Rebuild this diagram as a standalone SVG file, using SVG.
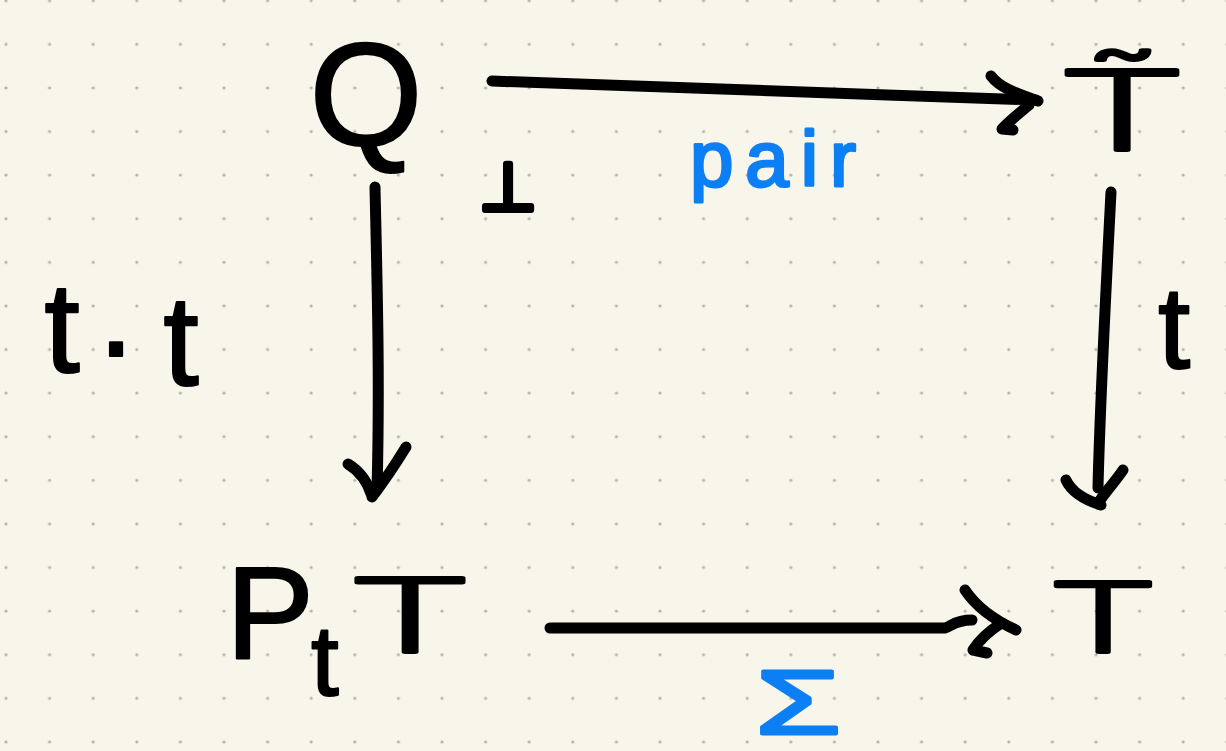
<svg xmlns="http://www.w3.org/2000/svg" width="1226" height="751" viewBox="0 0 1226 751">
  <defs>
    <!-- dotted notebook paper -->
    <pattern id="dots" patternUnits="userSpaceOnUse" x="-15.8" y="-21.1" width="43.6" height="43.6">
      <circle cx="21.8" cy="21.8" r="1.6" fill="#b4b2aa"/>
    </pattern>
    <style>
      .ink { font-family: "Liberation Sans", "DejaVu Sans", sans-serif; fill: #000; stroke: #000; stroke-width: 2; stroke-linejoin: round; }
      .wide { font-family: Lato, "Liberation Sans", sans-serif; font-weight: 300; fill: #000; stroke: #000; stroke-width: 4; stroke-linejoin: round; }
      .blue { font-family: "Liberation Sans", "DejaVu Sans", sans-serif; fill: #0b7ff3; stroke: #0b7ff3; stroke-width: 3; stroke-linejoin: round; }
      .wire { fill: none; stroke: #000; stroke-width: 11; stroke-linecap: round; stroke-linejoin: round; }
    </style>
  </defs>

  <rect width="1226" height="751" fill="#f8f6eb"/>
  <rect width="1226" height="751" fill="url(#dots)"/>

  <!-- objects -->
  <g id="node-Q">
    <text class="ink" x="366" y="145" font-size="146" text-anchor="middle">Q</text>
  </g>
  <g id="node-Ttilde">
    <text class="wide" x="0" y="0" font-size="112" text-anchor="middle" transform="translate(1122 150) scale(1.75 1)">T&#x303;</text>
  </g>
  <g id="node-PtT">
    <text class="ink" x="270" y="658" font-size="132" text-anchor="middle">P</text>
    <text class="ink" x="325" y="695" font-size="100" text-anchor="middle">t</text>
    <text class="wide" x="0" y="0" font-size="105" text-anchor="middle" transform="translate(410 652) scale(1.8 1)">T</text>
  </g>
  <g id="node-T">
    <text class="wide" x="0" y="0" font-size="98" text-anchor="middle" transform="translate(1103 652) scale(1.7 1)">T</text>
  </g>
  <g id="pullback-mark">
    <text x="508" y="210" font-size="66" text-anchor="middle" font-family="DejaVu Sans, sans-serif" fill="#000" stroke="#000" stroke-width="6" stroke-linejoin="round">⊥</text>
  </g>

  <!-- arrows -->
  <g id="connectors" class="wire">
    <!-- Q to T~ -->
    <path d="M492,81 C650,86 850,94 1036,100"/>
    <path d="M991,76 C1000,88 1018,94 1038,101 M1029,105 C1018,114 1007,123 1002,129 L1013,130"/>
    <!-- Q down to PtT -->
    <path d="M375,187 C377,280 380,380 377,490"/>
    <path d="M348,464 C358,470 367,480 372,496 M406,447 C395,465 385,480 372,497"/>
    <!-- T~ down to T -->
    <path d="M1111,192 C1106,290 1100,400 1098,488"/>
    <path d="M1066,480 C1072,493 1085,500 1101,505 M1123,470 C1115,482 1105,492 1099,502"/>
    <!-- PtT to T -->
    <path d="M550,628 C700,628 850,629 945,628 C952,626 955,620 972,620"/>
    <path d="M965,590 C975,605 990,618 1016,630 M1000,624 C988,632 978,642 973,650 L987,653"/>
  </g>

  <!-- arrow labels -->
  <g id="label-tt">
    <text class="ink" font-size="128" text-anchor="middle" x="62 116 181" y="372 384 385">t·t</text>
  </g>
  <g id="label-t">
    <text class="ink" x="1174" y="368" font-size="116" text-anchor="middle">t</text>
  </g>
  <g id="label-pair">
    <text class="blue" x="690" y="186" font-size="78" textLength="166" lengthAdjust="spacing">pair</text>
  </g>
  <g id="label-sigma">
    <text class="blue" x="0" y="0" font-size="90" text-anchor="middle" transform="translate(798 734) scale(1.55 1)">Σ</text>
  </g>
</svg>
